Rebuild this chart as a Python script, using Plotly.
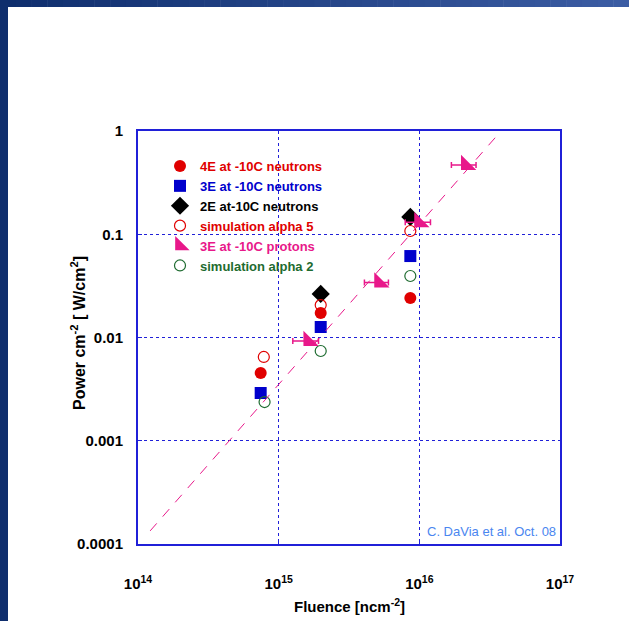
import plotly.graph_objects as go

# ---------------- data ----------------
n4e_x = [7.45e14, 1.99e15, 8.63e15]
n4e_y = [0.00453, 0.0173, 0.0241]

n3e_x = [7.45e14, 1.99e15, 8.63e15]
n3e_y = [0.0029, 0.01264, 0.0615]

n2e_x = [1.99e15, 8.63e15]
n2e_y = [0.0264, 0.147]

sim5_x = [7.84e14, 1.99e15, 8.63e15]
sim5_y = [0.00648, 0.0206, 0.1075]

prot_x = [1.63e15, 5.2e15, 1.0e16, 2.15e16]
prot_y = [0.00925, 0.0341, 0.131, 0.469]
prot_xlo = [1.26e15, 4.07e15, 7.94e15, 1.69e16]
prot_xhi = [1.92e15, 6.03e15, 1.20e16, 2.53e16]

sim2_x = [7.94e14, 1.99e15, 8.63e15]
sim2_y = [0.00237, 0.0074, 0.0394]

fit_x = [1.22e14, 3.7e16]
fit_y = [1.34e-4, 0.955]

x_tickvals = [1e14, 1e15, 1e16, 1e17]
x_ticktext = ["10<sup>14</sup>", "10<sup>15</sup>", "10<sup>16</sup>", "10<sup>17</sup>"]
y_tickvals = [1e-4, 1e-3, 1e-2, 1e-1, 1]
y_ticktext = ["0.0001", "0.001", "0.01", "0.1", "1"]

names = ["4E at -10C neutrons", "3E at -10C neutrons", "2E at-10C neutrons",
         "simulation alpha 5", "3E at -10C protons", "simulation alpha 2"]

# ---------------- style ----------------
RED = "#e00000"
BLUE = "#0000cc"
PINK = "#e8188a"
GREEN = "#1e6b30"
FRAME = "#2020d8"
FONT = "Liberation Sans, Arial, sans-serif"


def lab(text, color):
    return f'<span style="color:{color}"><b>{text}</b></span>'


fig = go.Figure()

fig.add_trace(go.Scatter(x=n4e_x, y=n4e_y, mode="markers", name=lab(names[0], RED),
                         legendrank=1,
                         marker=dict(symbol="circle", size=12, color=RED)))
fig.add_trace(go.Scatter(x=n3e_x, y=n3e_y, mode="markers", name=lab(names[1], BLUE),
                         legendrank=2,
                         marker=dict(symbol="square", size=12, color=BLUE)))
fig.add_trace(go.Scatter(x=n2e_x, y=n2e_y, mode="markers", name=lab(names[2], "#000000"),
                         legendrank=3,
                         marker=dict(symbol="diamond", size=14, color="black")))
fig.add_trace(go.Scatter(x=sim5_x, y=sim5_y, mode="markers", name=lab(names[3], RED),
                         legendrank=4,
                         marker=dict(symbol="circle-open", size=11, color=RED, line=dict(width=1.2))))
fig.add_trace(go.Scatter(x=sim2_x, y=sim2_y, mode="markers", name=lab(names[5], GREEN),
                         legendrank=6,
                         marker=dict(symbol="circle-open", size=11, color=GREEN, line=dict(width=1.2))))
# fit line
fig.add_trace(go.Scatter(x=fit_x, y=fit_y, mode="lines", showlegend=False,
                         line=dict(color=PINK, width=1, dash="10px,9px")))
# protons
fig.add_trace(go.Scatter(
    x=prot_x, y=prot_y, mode="markers", name=lab(names[4], PINK), legendrank=5,
    marker=dict(symbol="triangle-sw", size=17, color=PINK),
    error_x=dict(type="data", symmetric=False,
                 array=[h - x for h, x in zip(prot_xhi, prot_x)],
                 arrayminus=[x - l for l, x in zip(prot_xlo, prot_x)],
                 color=PINK, thickness=1.5, width=3)))

# ---------------- layout ----------------
L, R, T, B = 138, 69, 131, 77
W, H = 629 - L - R, 621 - T - B


def xp(px):
    return (px - L) / W


def yp(py):
    return (621 - B - py) / H


shapes = []
# left slide band
shapes.append(dict(type="rect", xref="paper", yref="paper", x0=xp(0), x1=xp(8),
                   y0=yp(621), y1=yp(0), line=dict(width=0), fillcolor="#0f2e6d", layer="above"))
# top slide band as gradient
nseg = 40
c0 = (0x0f, 0x2e, 0x6d)
c1 = (0x3b, 0x5c, 0xa3)
for i in range(nseg):
    t = i / (nseg - 1)
    c = tuple(int(round(a + (b - a) * t)) for a, b in zip(c0, c1))
    shapes.append(dict(type="rect", xref="paper", yref="paper",
                       x0=xp(629 * i / nseg), x1=xp(629 * (i + 1) / nseg + 0.5),
                       y0=yp(7), y1=yp(0), line=dict(width=0),
                       fillcolor="rgb(%d,%d,%d)" % c, layer="above"))

fig.update_layout(
    width=629, height=621,
    margin=dict(l=L, r=R, t=T, b=B, pad=0),
    paper_bgcolor="white", plot_bgcolor="white",
    font=dict(family=FONT, size=13, color="black"),
    showlegend=True,
    legend=dict(x=xp(160), y=yp(151), xanchor="left", yanchor="top",
                bgcolor="rgba(0,0,0,0)", borderwidth=0,
                font=dict(family=FONT, size=13), tracegroupgap=0,
                itemclick=False),
    shapes=shapes,
    xaxis=dict(type="log", range=[14, 17], tickvals=x_tickvals, ticktext=x_ticktext,
               showgrid=True, gridcolor=FRAME, griddash="dot", gridwidth=1,
               showline=True, mirror=True, linecolor=FRAME, linewidth=2,
               ticks="inside", ticklen=4, tickcolor=FRAME, ticklabelstandoff=25,
               tickfont=dict(family=FONT, size=15, color="black", weight="bold"),
               zeroline=False),
    yaxis=dict(type="log", range=[-4, 0], tickvals=y_tickvals, ticktext=y_ticktext,
               showgrid=True, gridcolor=FRAME, griddash="dot", gridwidth=1,
               showline=True, mirror=True, linecolor=FRAME, linewidth=2,
               ticks="inside", ticklen=4, tickcolor=FRAME, ticklabelstandoff=10,
               tickfont=dict(family=FONT, size=15, color="black", weight="bold"),
               zeroline=False),
    annotations=[
        dict(text="<b>Fluence [ncm<sup>-2</sup>]</b>", xref="paper", yref="paper",
             x=0.5, y=yp(605), xanchor="center", yanchor="middle", showarrow=False,
             font=dict(family=FONT, size=15, color="black")),
        dict(text="<b>Power cm<sup>-2</sup> [ W/cm<sup>2</sup>]</b>", xref="paper", yref="paper",
             x=xp(78), y=yp(333), xanchor="center", yanchor="middle", showarrow=False,
             textangle=-90, font=dict(family=FONT, size=16, color="black")),
        dict(text="C. DaVia et al. Oct. 08", xref="paper", yref="paper",
             x=xp(558), y=yp(531), xanchor="right", yanchor="middle", showarrow=False,
             font=dict(family=FONT, size=13, color="#4a86f0")),
    ],
)

fig.write_html("out.html")
